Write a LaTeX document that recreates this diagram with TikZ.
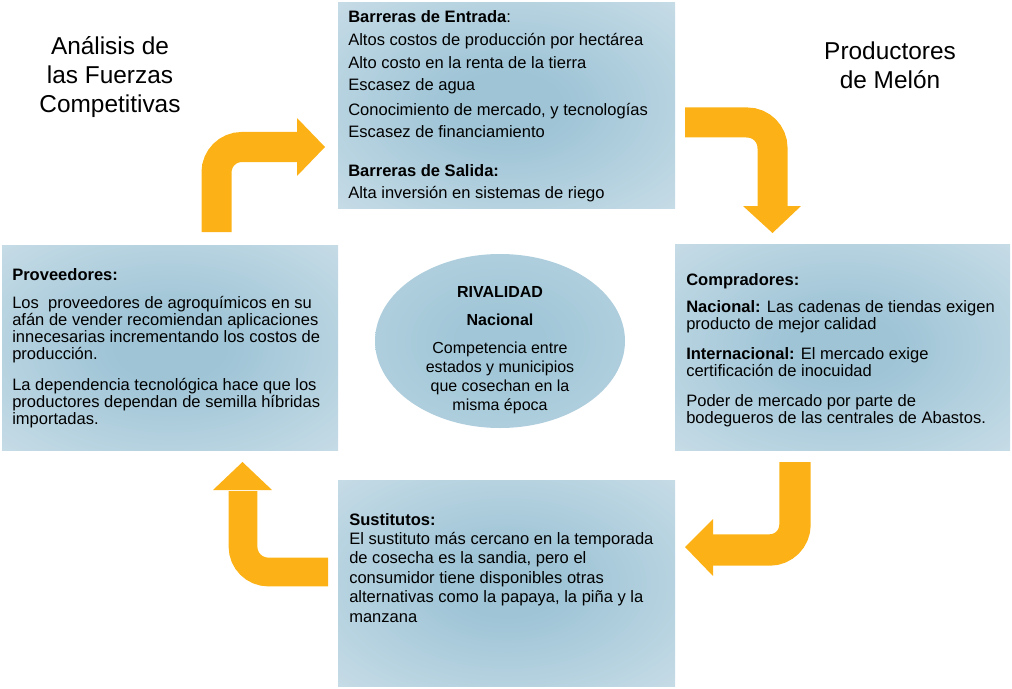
\documentclass[tikz,border=0pt]{standalone}
\usepackage{fontspec}
\setmainfont{Liberation Sans}
\usetikzlibrary{shapes.geometric}
\definecolor{bcen}{RGB}{158,196,214}
\definecolor{bedge}{RGB}{219,232,239}
\definecolor{ecen}{RGB}{160,198,215}
\definecolor{eedge}{RGB}{196,219,230}
\definecolor{arr}{RGB}{252,178,22}
\pgfdeclareradialshading{boxshade}{\pgfpoint{0bp}{0bp}}{color(0bp)=(bcen); color(8bp)=(bcen); color(50bp)=(bedge)}
\pgfdeclareradialshading{ellshade}{\pgfpoint{0bp}{0bp}}{color(0bp)=(ecen); color(8bp)=(ecen); color(50bp)=(eedge)}
\tikzset{
  boxnode/.style={rectangle, shade, shading=boxshade, draw=none, inner sep=0pt},
  ellnode/.style={ellipse, shade, shading=ellshade, draw=none, inner sep=0pt, minimum width=187.5pt, minimum height=130.5pt},
  txt/.style={anchor=base west, inner sep=0pt},
  band/.style={draw=arr, line width=22.5pt, rounded corners=19pt},
  head/.style={fill=arr, draw=none},
  title/.style={anchor=base, inner sep=0pt}
}
\newcommand{\tl}[3]{\fontsize{#1}{#2}\selectfont\begin{tabular}[t]{@{}l@{}}#3\end{tabular}}
\newcommand{\tc}[3]{\fontsize{#1}{#2}\selectfont\begin{tabular}[t]{@{}c@{}}#3\end{tabular}}
\begin{document}
\begin{tikzpicture}[x=0.75pt,y=-0.75pt]
\useasboundingbox (0,0) rectangle (1012,688);
% boxes
\node[boxnode, minimum width=252.75pt, minimum height=153.75pt] (top) at (506.5,105.5) {};
\node[boxnode, minimum width=252pt, minimum height=153.75pt] (left) at (170,347.5) {};
\node[boxnode, minimum width=251.25pt, minimum height=154.5pt] (right) at (842.5,347) {};
\node[boxnode, minimum width=252.75pt, minimum height=154.5pt] (bottom) at (506.5,583) {};
\node[ellnode] (riv) at (500,341) {};
% titles
\node[title] (t1) at (110,55) {\tc{18.3pt}{21.4pt}{Análisis de\\las Fuerzas\\Competitivas}};
\node[title] (t2) at (890,60) {\tc{18.3pt}{21.4pt}{Productores\\de Melón}};
% texts
\node[txt] (toptxt) at (348,23) {\tl{12.4pt}{16.9pt}{\textbf{Barreras de Entrada}:\\
Altos costos de producción por hectárea\\
Alto costo en la renta de la tierra\\
Escasez de agua\\[1.5pt]
Conocimiento de mercado, y tecnologías\\
Escasez de financiamiento\\[12pt]
\textbf{Barreras de Salida:}\\
Alta inversión en sistemas de riego}};
\node[txt] (lefttxt) at (12,280) {\tl{12.4pt}{12.75pt}{\textbf{Proveedores:}\\[8.25pt]
Los\ \ proveedores de agroquímicos en su\\
afán de vender recomiendan aplicaciones\\
innecesarias incrementando los costos de\\
producción.\\[9.75pt]
La dependencia tecnológica hace que los\\
productores dependan de semilla híbridas\\
importadas.}};
\node[txt] (righttxt) at (686,285) {\tl{12.4pt}{12.4pt}{\textbf{Compradores:}\\[7.9pt]
\textbf{Nacional:} Las cadenas de tiendas exigen\\
producto de mejor calidad\\[9.75pt]
\textbf{Internacional:} El mercado exige\\
certificación de inocuidad\\[9.75pt]
Poder de mercado por parte de\\
bodegueros de las centrales de Abastos.}};
\node[txt] (bottxt) at (349,525) {\tl{12.4pt}{14.6pt}{\textbf{Sustitutos:}\\
El sustituto más cercano en la temporada\\
de cosecha es la sandia, pero el\\
consumidor tiene disponibles otras\\
alternativas como la papaya, la piña y la\\
manzana}};
\node[title] (rivtxt) at (500,297) {\tc{12pt}{14.25pt}{\textbf{RIVALIDAD}\\[6.75pt]
\textbf{Nacional}\\[6.75pt]
Competencia entre\\
estados y municipios\\
que cosechan en la\\
misma época}};
% arrows
\coordinate (a1s) at (216.5,232);
\coordinate (a1c) at (216.5,147);
\coordinate (a1e) at (298,147);
\draw[band] (a1s) -- (a1c) -- (a1e);
\fill[head] (297,118) -- (325,147) -- (297,176) -- cycle;
\coordinate (a2s) at (685,122.5);
\coordinate (a2c) at (772.5,122.5);
\coordinate (a2e) at (772.5,207);
\draw[band] (a2s) -- (a2c) -- (a2e);
\fill[head] (743,206) -- (801,206) -- (772.5,233) -- cycle;
\coordinate (a3s) at (795,462);
\coordinate (a3c) at (795,550);
\coordinate (a3e) at (712,550);
\draw[band, line width=23.5pt] (a3s) -- (a3c) -- (a3e);
\fill[head] (713,519) -- (685,547) -- (713,576) -- cycle;
\coordinate (a4s) at (243,491);
\coordinate (a4c) at (243,572);
\coordinate (a4e) at (328,572);
\draw[band, line width=21.5pt] (a4s) -- (a4c) -- (a4e);
\fill[head] (213,490) -- (242.5,462) -- (272,490) -- cycle;
\end{tikzpicture}
\end{document}
